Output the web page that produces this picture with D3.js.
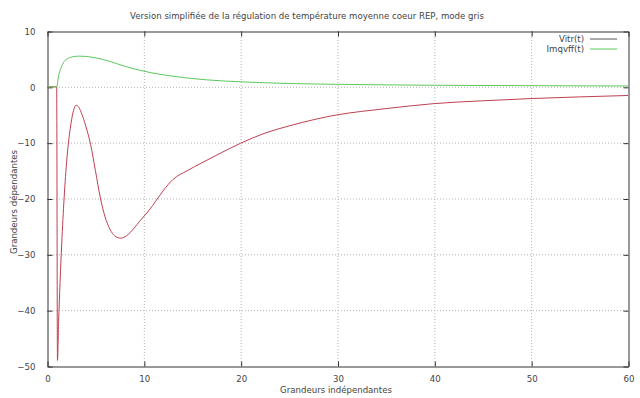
<!DOCTYPE html>
<html>
<head>
<meta charset="utf-8">
<script src="https://cdn.jsdelivr.net/npm/d3@7"></script>
<style>
  body { margin: 0; background: #fff; }
  text { font-family: "DejaVu Sans", sans-serif; font-size: 8.6px; fill: #444; }
</style>
</head>
<body>
<svg width="640" height="398"></svg>
<script>
// Données
const titre = "Version simplifiée de la régulation de température moyenne coeur REP, mode gris";
const labelX = "Grandeurs indépendantes";
const labelY = "Grandeurs dépendantes";

const tVitr = [0, 1.0, 1.08, 1.2, 1.35, 1.55, 1.8, 2.1, 2.4, 2.7, 3.0, 3.3, 3.6, 4.0, 4.5, 5.0, 5.5, 6.0, 6.5, 7.0, 7.6, 8.2, 9.0, 9.6, 10.5, 11.3, 12.0, 13.0, 14.5, 16, 18, 20, 22.5, 25, 27.5, 30, 32.5, 35, 40, 45, 50, 55, 60];
const vitr  = [0, 0, -49, -42, -35, -27, -19, -12, -7.5, -4.5, -3.3, -3.7, -4.9, -7.0, -10.3, -15.0, -19.8, -23.3, -25.5, -26.7, -27.1, -26.7, -25.3, -24.0, -22.2, -20.3, -18.6, -16.6, -15.0, -13.6, -11.8, -10.1, -8.3, -7.0, -5.9, -5.0, -4.4, -3.9, -3.0, -2.5, -2.1, -1.8, -1.55];

const tImq   = [0, 1.0, 1.2, 1.45, 1.76, 2.2, 2.7, 3.3, 4.0, 4.85, 6.6, 8, 10, 13, 16.5, 20, 25, 30, 40, 50, 60];
const imqvff = [0, 0, 2.0, 3.4, 4.5, 5.1, 5.4, 5.5, 5.45, 5.25, 4.5, 3.7, 2.8, 1.9, 1.25, 0.9, 0.6, 0.45, 0.28, 0.2, 0.15];

const xTicks = [0, 10, 20, 30, 40, 50, 60];
const yTicks = [-50, -40, -30, -20, -10, 0, 10];

const series = [
  { nom: "Vitr(t)", t: tVitr, v: vitr, couleur: "#bf4050" },
  { nom: "Imqvff(t)", t: tImq, v: imqvff, couleur: "#5cc85c" }
];

const svg = d3.select("svg");
const width = +svg.attr("width");
const height = +svg.attr("height");
const margin = { top: 31, right: 12, bottom: 32, left: 47 };

const x = d3.scaleLinear().domain([0, 60]).range([margin.left, width - margin.right]);
const y = d3.scaleLinear().domain([-50, 10]).range([height - margin.bottom, margin.top]);

// grille pointillée
const grille = svg.append("g");
grille.selectAll(".gx").data(xTicks.slice(1, -1)).enter().append("line")
  .attr("x1", d => x(d) + 0.5).attr("x2", d => x(d) + 0.5)
  .attr("y1", y(10)).attr("y2", y(-50))
  .attr("stroke", "#b4b4b4").attr("stroke-dasharray", "1,2");
grille.selectAll(".gy").data(yTicks.slice(1, -1)).enter().append("line")
  .attr("x1", x(0)).attr("x2", x(60))
  .attr("y1", d => y(d) + 0.5).attr("y2", d => y(d) + 0.5)
  .attr("stroke", "#b4b4b4").attr("stroke-dasharray", "1,2");

// axes avec graduations vers l'intérieur
const axeBas = svg.append("g").attr("transform", `translate(0.5,${y(-50) + 0.5})`)
  .call(d3.axisBottom(x).tickValues(xTicks).tickSizeInner(-5).tickSizeOuter(0).tickPadding(9));
const axeHaut = svg.append("g").attr("transform", `translate(0.5,${y(10) + 0.5})`)
  .call(d3.axisTop(x).tickValues(xTicks).tickSizeInner(-5).tickSizeOuter(0).tickFormat(""));
const axeGauche = svg.append("g").attr("transform", `translate(${x(0) + 0.5},0.5)`)
  .call(d3.axisLeft(y).tickValues(yTicks).tickSizeInner(-5).tickSizeOuter(0).tickPadding(12));
const axeDroit = svg.append("g").attr("transform", `translate(${x(60) + 0.5},0.5)`)
  .call(d3.axisRight(y).tickValues(yTicks).tickSizeInner(-5).tickSizeOuter(0).tickFormat(""));

[axeBas, axeHaut, axeGauche, axeDroit].forEach(a => {
  a.select(".domain").attr("stroke", "#333");
  a.selectAll(".tick line").attr("stroke", "#333");
  a.selectAll("text").attr("fill", "#444").style("font-size", "8.6px")
    .style("font-family", "'DejaVu Sans', sans-serif");
});

// courbes
const ligne = d3.line().curve(d3.curveMonotoneX);
series.forEach(s => {
  svg.append("path")
    .datum(s.t.map((t, i) => [x(t), y(s.v[i])]))
    .attr("d", ligne)
    .attr("fill", "none")
    .attr("stroke", s.couleur)
    .attr("stroke-width", 1);
});

// légende
series.forEach((s, i) => {
  const ly = 38.5 + i * 10;
  svg.append("text").attr("x", 584).attr("y", ly).attr("dy", "0.35em")
    .attr("text-anchor", "end").text(s.nom);
  svg.append("line").attr("x1", 590).attr("x2", 617)
    .attr("y1", ly + 0.5).attr("y2", ly + 0.5)
    .attr("stroke", i === 0 ? "#555" : s.couleur);
});

// titres
svg.append("text").attr("x", 307).attr("y", 19).attr("text-anchor", "middle").text(titre);
svg.append("text").attr("x", 336).attr("y", 393).attr("text-anchor", "middle").text(labelX);
svg.append("text").attr("transform", "translate(17,202) rotate(-90)")
  .attr("text-anchor", "middle").text(labelY);
</script>
</body>
</html>
